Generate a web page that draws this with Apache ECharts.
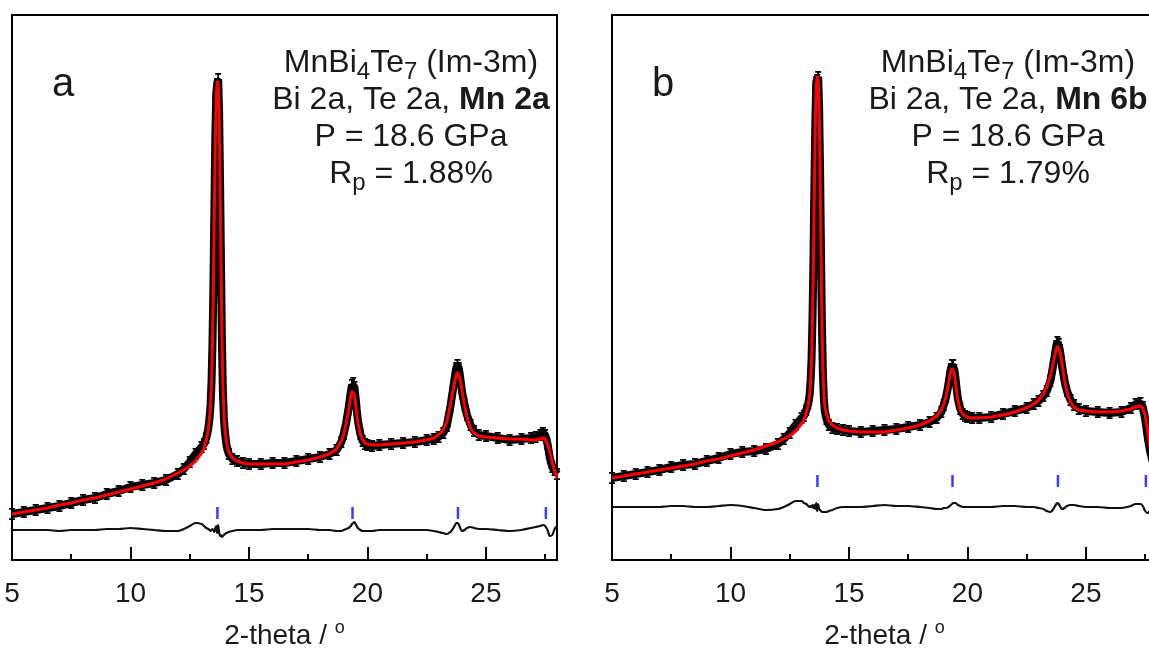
<!DOCTYPE html>
<html>
<head>
<meta charset="utf-8">
<script src="https://cdn.jsdelivr.net/npm/echarts@6/dist/echarts.min.js"></script>
<style>
  html, body { margin: 0; padding: 0; background: #fff; }
  #chart { width: 1149px; height: 649px; }
</style>
</head>
<body>
<div id="chart"></div>
<script>
// 2-theta positions (degrees) shared by both refinements
const twoTheta = [
  5.0, 5.5, 6.0, 6.5, 7.0, 7.5, 8.0, 8.5, 9.0, 9.5, 10.0, 10.5, 11.0, 11.5, 12.0,
  12.25, 12.5, 12.75, 13.0, 13.1, 13.2, 13.28,
  13.34, 13.38, 13.42, 13.46, 13.50, 13.54, 13.58, 13.62, 13.66, 13.70, 13.74, 13.78, 13.82, 13.86, 13.90, 13.94, 13.98,
  14.05, 14.15, 14.3, 14.5, 14.75, 15.0,
  15.5, 16.0, 16.5, 17.0, 17.5, 18.0, 18.4, 18.7,
  18.9, 19.0, 19.1, 19.2, 19.25, 19.3, 19.35, 19.4, 19.45, 19.5, 19.55, 19.6, 19.7, 19.8, 19.9, 20.0, 20.2,
  20.5, 21.0, 21.5, 22.0, 22.5, 22.8, 23.0, 23.2,
  23.35, 23.5, 23.6, 23.7, 23.75, 23.8, 23.85, 23.9, 23.95, 24.0, 24.1, 24.2, 24.35, 24.5, 24.7,
  25.0, 25.5, 26.0, 26.5, 26.9, 27.1, 27.3, 27.4, 27.5, 27.6, 27.7, 27.8, 27.9, 28.0
];

// Panel a: Mn on 2a
const obsA = [
  46, 48, 50, 52, 54, 57, 60, 62, 66, 69, 73, 75, 77, 80, 86,
  91, 98, 106, 113, 116, 122, 131,
  143, 155, 178, 216, 275, 348, 422, 466, 476, 481, 448, 379, 295, 218, 169, 143, 129,
  115, 106, 101, 99, 97, 96,
  96, 97, 97, 99, 101, 103, 106, 110,
  118, 126, 137, 151, 160, 168, 175, 177, 173, 162, 150, 139, 126, 119, 116, 115, 114,
  115, 116, 117, 118, 120, 121, 123, 127,
  134, 153, 169, 185, 192, 195, 192, 185, 176, 167, 155, 145, 135, 129, 125,
  124, 122, 120, 121, 122, 123, 125, 127, 125, 116, 102, 93, 90, 86
];
const calcA = [
  46, 48, 50, 52, 55, 57, 60, 62, 65, 68, 71, 74, 77, 81, 87,
  90, 94, 99, 107, 112, 120, 130,
  143, 156, 178, 215, 275, 350, 420, 462, 479, 476, 450, 385, 300, 225, 175, 148, 133,
  118, 108, 102, 99, 97, 96,
  96, 96, 96, 98, 100, 103, 106, 111,
  119, 126, 136, 149, 157, 164, 169, 170, 165, 156, 146, 137, 126, 120, 117, 116, 115,
  115, 116, 117, 118, 120, 122, 125, 130,
  138, 155, 168, 180, 185, 188, 186, 182, 176, 168, 155, 143, 132, 127, 124,
  123, 122, 121, 121, 120, 120, 121, 122, 121, 116, 108, 98, 89, 82
];
const diffA = [
  0, 0, 0, 0, -1, 0, 0, 0, 1, 1, 2, 1, 0, -1, -1,
  1, 4, 7, 6, 4, 2, 1,
  0, -1, 0, 1, 0, -2, 2, 4, -3, 5, -2, -6, -5, -7, -6, -5, -4,
  -3, -2, -1, 0, 0, 0,
  0, 1, 1, 1, 1, 0, 0, -1,
  -1, 0, 1, 2, 3, 4, 6, 7, 8, 6, 4, 2, 0, -1, -1, -1, -1,
  0, 0, 0, 0, 0, -1, -2, -3,
  -4, -2, 1, 5, 7, 7, 6, 3, 0, -1, 0, 2, 3, 2, 1,
  1, 0, -1, 0, 2, 3, 4, 5, 4, 0, -6, -5, 1, 4
];

// Panel b: Mn on 6b
const obsB = [
  82, 84, 86, 88, 90, 93, 95, 96, 99, 102, 106, 108, 109, 111, 116,
  121, 127, 135, 142, 144, 150, 156,
  165, 179, 200, 240, 297, 372, 436, 478, 480, 483, 453, 392, 308, 235, 187, 162, 149,
  141, 135, 132, 131, 130, 129,
  128, 129, 130, 131, 133, 135, 138, 142,
  148, 155, 163, 176, 184, 191, 195, 195, 190, 181, 170, 161, 151, 146, 144, 143, 142,
  142, 143, 146, 149, 152, 156, 159, 164,
  169, 179, 192, 207, 214, 218, 216, 210, 202, 193, 179, 169, 160, 155, 151,
  149, 148, 147, 148, 152, 156, 157, 153, 141, 124, 110, 100, 94, 88
];
const calcB = [
  82, 84, 86, 88, 90, 92, 94, 96, 99, 101, 104, 107, 110, 114, 118,
  121, 124, 129, 136, 140, 147, 155,
  165, 178, 200, 238, 298, 370, 438, 474, 484, 480, 455, 395, 312, 240, 192, 167, 154,
  146, 139, 135, 132, 130, 129,
  128, 128, 128, 130, 132, 135, 139, 144,
  150, 156, 164, 176, 183, 189, 192, 191, 186, 177, 167, 159, 150, 146, 144, 143, 142,
  142, 143, 145, 148, 152, 156, 160, 166,
  173, 184, 195, 206, 211, 214, 213, 209, 203, 195, 180, 168, 158, 153, 150,
  149, 148, 148, 149, 151, 153, 154, 152, 145, 130, 114, 102, 94, 88
];
const diffB = [
  0, 0, 0, 0, 0, 1, 1, 0, 0, 1, 2, 1, -1, -3, -2,
  0, 3, 6, 6, 4, 3, 1,
  0, 1, 0, 2, -1, 2, -2, 4, -4, 3, -2, -3, -4, -5, -5, -5, -5,
  -5, -4, -3, -1, 0, 0,
  0, 1, 2, 1, 1, 0, -1, -2,
  -2, -1, -1, 0, 1, 2, 3, 4, 4, 4, 3, 2, 1, 0, 0, 0, 0,
  0, 0, 1, 1, 0, 0, -1, -2,
  -4, -5, -3, 1, 3, 4, 3, 1, -1, -2, -1, 1, 2, 2, 1,
  0, 0, -1, -1, 1, 3, 3, 1, -4, -6, -4, -2, 0, 0
];

// Bragg reflection positions of the Im-3m cell
const reflections = [13.67, 19.37, 23.82, 27.53];

// Axis tick values
const majorTicks = [5, 10, 15, 20, 25];
const minorTicks = [7.5, 12.5, 17.5, 22.5, 27.5];

// Annotation text
const panelLetters = ['a', 'b'];
const phaseLabel = 'MnBi{sub|4}Te{sub|7} (Im-3m)';
const siteLabels = ['Bi 2a, Te 2a, {b|Mn 2a}', 'Bi 2a, Te 2a, {b|Mn 6b}'];
const pressureLabel = 'P = 18.6 GPa';
const rpLabels = ['R{sub|p} = 1.88%', 'R{sub|p} = 1.79%'];

const FONT = '"Liberation Sans", Arial, Helvetica, sans-serif';
const TEXT = '#1a1a1a';

const panels = [
  { left: 12, obs: obsA, calc: calcA, diff: diffA, diffOffset: 30, tickY: 47, textX: 411 },
  { left: 612, obs: obsB, calc: calcB, diff: diffB, diffOffset: 53, tickY: 79, textX: 1008 }
];
const PLOT_W = 545, PLOT_H = 545, PLOT_TOP = 15;

// I-beam marker for observed points with error bars
const IBEAM = 'path://M0,0H6V1.5H3.9V9.5H6V11H0V9.5H2.1V1.5H0Z';

const grids = [], xAxes = [], yAxes = [], series = [], graphics = [];

panels.forEach((p, k) => {
  grids.push({
    left: p.left, top: PLOT_TOP, width: PLOT_W, height: PLOT_H,
    outerBoundsMode: 'none', containLabel: false,
    show: true, borderColor: '#000', borderWidth: 2, backgroundColor: 'transparent'
  });
  // main axis: labels, major ticks
  xAxes.push({
    gridIndex: k, type: 'value', min: 5, max: 28, position: 'bottom',
    axisLine: { show: true, lineStyle: { color: '#000', width: 2 } },
    axisTick: { show: true, inside: true, length: 13, customValues: majorTicks,
                lineStyle: { color: '#000', width: 2 } },
    axisLabel: { show: true, customValues: majorTicks, margin: 20, fontSize: 28,
                 fontFamily: FONT, color: TEXT },
    splitLine: { show: false },
    name: '2-theta / {sup|o}', nameLocation: 'middle', nameGap: 59,
    nameTextStyle: {
      fontSize: 28, fontFamily: FONT, color: TEXT, lineHeight: 34,
      rich: { sup: { fontSize: 18, fontFamily: FONT, color: TEXT, lineHeight: 18, verticalAlign: 'top' } }
    }
  });
  // companion axis: minor ticks only
  xAxes.push({
    gridIndex: k, type: 'value', min: 5, max: 28, position: 'bottom',
    axisLine: { show: false },
    axisTick: { show: true, inside: true, length: 6, customValues: minorTicks,
                lineStyle: { color: '#000', width: 2 } },
    axisLabel: { show: false },
    splitLine: { show: false }
  });
  yAxes.push({ gridIndex: k, type: 'value', min: 0, max: 545, show: false });

  const xi = 2 * k;
  series.push({
    name: 'observed ' + panelLetters[k], type: 'line', xAxisIndex: xi, yAxisIndex: k,
    data: twoTheta.map((t, i) => [t, p.obs[i]]),
    lineStyle: { color: '#000', width: 8 },
    symbol: IBEAM, symbolSize: [6, 12], showAllSymbol: true,
    itemStyle: { color: '#000' }, z: 2, animation: false
  });
  series.push({
    name: 'calculated ' + panelLetters[k], type: 'line', xAxisIndex: xi, yAxisIndex: k,
    data: twoTheta.map((t, i) => [t, p.calc[i]]),
    lineStyle: { color: '#ff0000', width: 3 }, symbol: 'none', z: 3, animation: false
  });
  series.push({
    name: 'difference ' + panelLetters[k], type: 'line', xAxisIndex: xi, yAxisIndex: k,
    data: twoTheta.map((t, i) => [t, p.diff[i] + p.diffOffset]),
    smooth: 0.3, lineStyle: { color: '#111', width: 2.2 }, symbol: 'none', z: 2, animation: false
  });
  series.push({
    name: 'reflections ' + panelLetters[k], type: 'scatter', xAxisIndex: xi, yAxisIndex: k,
    data: reflections.map(r => [r, p.tickY]),
    symbol: 'rect', symbolSize: [2.5, 12], itemStyle: { color: '#0a0aff' }, z: 4, animation: false
  });

  const richStyles = {
    sub: { fontSize: 24, fontFamily: FONT, fill: TEXT, lineHeight: 24, verticalAlign: 'bottom' },
    b: { fontSize: 32, fontFamily: FONT, fill: TEXT, fontWeight: 'bold', lineHeight: 42 }
  };
  const lines = [phaseLabel, siteLabels[k], pressureLabel, rpLabels[k]];
  const ys = [63, 100, 137, 174];
  lines.forEach((txt, j) => {
    graphics.push({
      type: 'text', x: p.textX, y: ys[j], z: 10,
      style: {
        text: txt, fontSize: 32, fontFamily: FONT, fill: TEXT, lineHeight: 42,
        align: 'center', verticalAlign: 'middle', rich: richStyles
      }
    });
  });
  graphics.push({
    type: 'text', x: p.left + 51, y: 85, z: 10,
    style: { text: panelLetters[k], fontSize: 40, fontFamily: FONT, fill: TEXT,
             align: 'center', verticalAlign: 'middle' }
  });
});

const chart = echarts.init(document.getElementById('chart'), null, { renderer: 'canvas' });
chart.setOption({
  animation: false,
  backgroundColor: '#fff',
  grid: grids,
  xAxis: xAxes,
  yAxis: yAxes,
  series: series,
  graphic: graphics
});
</script>
</body>
</html>
